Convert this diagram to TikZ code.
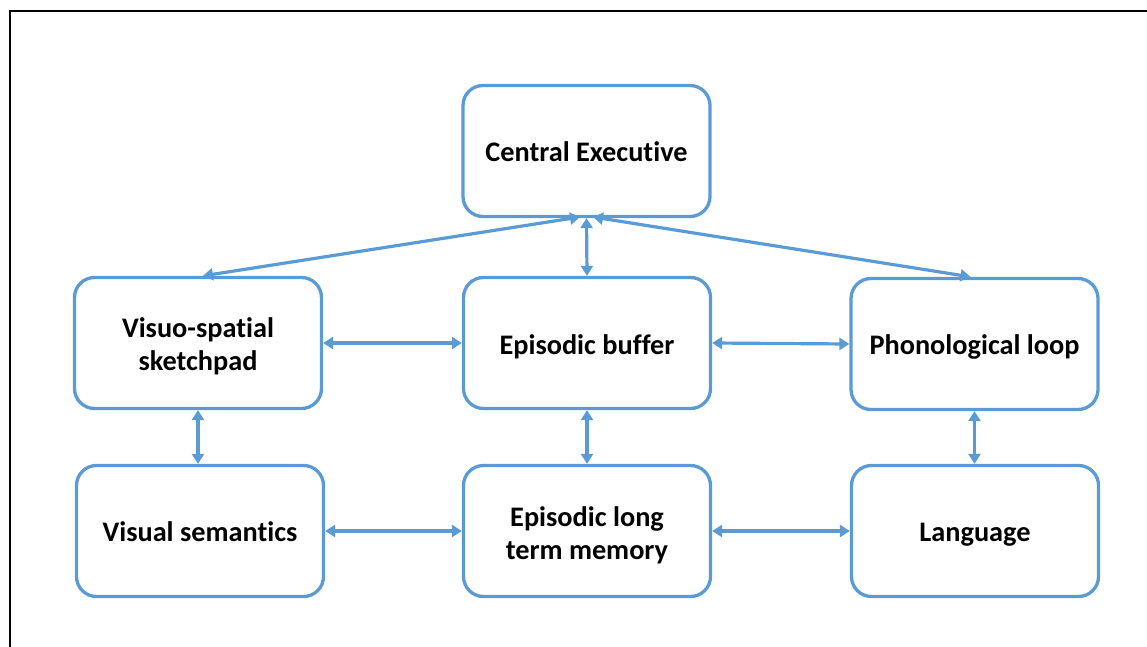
\documentclass[tikz,border=0pt]{standalone}
\usepackage{fontspec}
\setmainfont[Ligatures=NoCommon]{Carlito}
\usetikzlibrary{arrows.meta}
\definecolor{boxblue}{HTML}{5B9BD5}
\newcommand\boxtext[2]{\raisebox{-#1pt}[\height][\depth]{\begin{tabular}{@{}c@{}}#2\end{tabular}}}
\tikzset{
  mbox/.style={draw=boxblue, line width=3.3pt, rounded corners=20pt, minimum width=247pt, minimum height=131pt, font=\fontsize{28.3}{33.5}\selectfont\bfseries, inner sep=0pt},
  link/.style={draw=boxblue, line width=3.2pt, {Triangle[length=10pt,width=12pt]}-{Triangle[length=10pt,width=12pt]}}
}
\begin{document}
\begin{tikzpicture}[x=1pt,y=-1pt]
\useasboundingbox (0,0) rectangle (1147,647);
\draw[line width=2pt] (9.5,647) -- (9.5,11.5) -- (1147,11.5);
\node[mbox] (ce) at (586.5,151) {\boxtext{3.5}{Central Executive}};
\node[mbox] (vs) at (198,343) {\boxtext{4.5}{Visuo-spatial\\sketchpad}};
\node[mbox] (eb) at (587,343) {\boxtext{4.5}{Episodic buffer}};
\node[mbox] (pl) at (974.5,344) {\boxtext{4}{Phonological loop}};
\node[mbox] (vsem) at (200,531) {\boxtext{3.5}{Visual semantics}};
\node[mbox] (eltm) at (587,531) {\boxtext{5.5}{Episodic long\\term memory}};
\node[mbox] (lang) at (975,531) {\boxtext{3.5}{Language}};
\coordinate (ceL) at (580,217);
\coordinate (ceR) at (593,217);
\draw[link] (ceL) -- ([xshift=5pt]vs.north);
\draw[link] (ceR) -- ([xshift=-4pt]pl.north);
\draw[link] (ce.south) -- (eb.north);
\draw[link] (vs.east) -- (eb.west);
\draw[link] (eb.east) -- (pl.west);
\draw[link] (vs.south) -- (vsem.north -| vs.south);
\draw[link] (eb.south) -- (eltm.north);
\draw[link] (pl.south) -- (lang.north -| pl.south);
\draw[link] (vsem.east) -- (eltm.west);
\draw[link] (eltm.east) -- (lang.west);
\end{tikzpicture}
\end{document}
